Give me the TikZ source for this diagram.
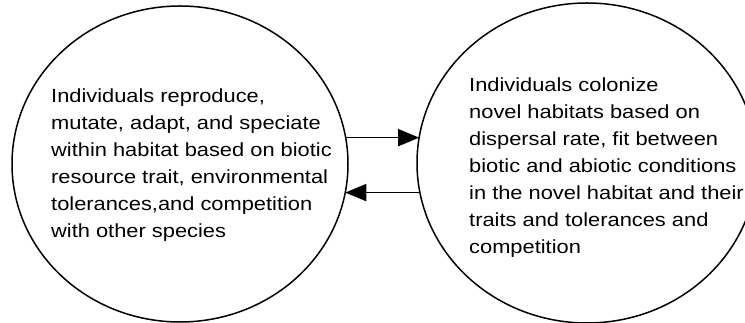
\documentclass[tikz,border=0pt]{standalone}
\usepackage{fontspec}
\setmainfont{Liberation Sans}[FakeStretch=1.15]
\usetikzlibrary{positioning,arrows.meta,shapes.geometric}
\tikzset{
  blob/.style={ellipse,draw=black,line width=1.5pt,inner sep=0pt},
  txt/.style={align=left,inner sep=0pt,font=\fontsize{19}{27}\selectfont},
  ar/.style={-{Triangle[length=21pt,width=17pt]},line width=1.6pt},
}
\begin{document}
\begin{tikzpicture}[x=1pt,y=1pt]
\useasboundingbox (0,0) rectangle (745,323);
% ---- circles ----
\node[blob,minimum width=336pt,minimum height=316pt] (hab) at (180,159) {};
\node[blob,minimum width=340pt,minimum height=320pt] (nov) at (587,160) {};
% ---- texts ----
\node[txt,anchor=west] (habtxt) at (51,158) {Individuals reproduce,\\mutate, adapt, and speciate\\within habitat based on biotic\\resource trait, environmental\\tolerances,and competition\\with other species};
\node[txt,anchor=west] (novtxt) at (469,155) {Individuals colonize\\novel habitats based on\\dispersal rate, fit between\\biotic and abiotic conditions\\in the novel habitat and their\\traits and tolerances and\\competition};
% ---- arrows ----
\draw[ar] (hab.9.4) -- (hab.9.4 -| nov.170.6);
\draw[ar] (nov.190.4) -- (nov.190.4 -| hab.349.6);
\end{tikzpicture}
\end{document}
